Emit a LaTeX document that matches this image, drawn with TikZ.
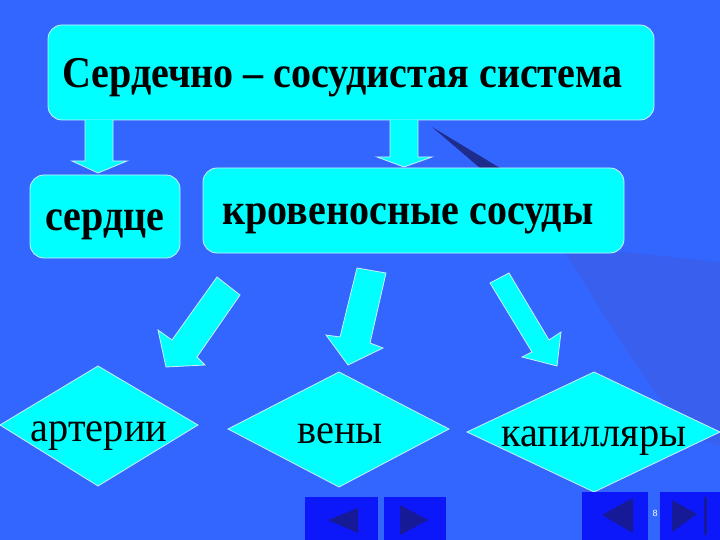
\documentclass[tikz,border=0pt]{standalone}
\usepackage{fontspec}
\setmainfont{Liberation Serif}
\newfontfamily\numfont{Liberation Sans}
\definecolor{bg}{RGB}{51,102,255}
\definecolor{shadecol}{RGB}{57,95,238}
\definecolor{darkstreak}{RGB}{30,45,140}
\definecolor{boxcyan}{RGB}{0,255,255}
\definecolor{btnblue}{RGB}{12,24,250}
\definecolor{btntri}{RGB}{22,26,150}
\newcommand{\bsq}[1]{\scalebox{0.91}[1]{#1}}
\newcommand{\rsq}[1]{\scalebox{0.96}[1]{#1}}
\begin{document}
\begin{tikzpicture}[x=1pt,y=-1pt,
  cbox/.style={fill=boxcyan,draw=white!80!cyan,line width=0.8pt,rounded corners=14pt},
  dia/.style={fill=boxcyan,draw=white!80!cyan,line width=0.8pt},
  barrow/.style={fill=boxcyan,draw=white!80!cyan,line width=0.8pt,line join=miter},
  btn/.style={fill=btnblue,draw=none},
  tri/.style={fill=btntri,draw=none},
  boldtxt/.style={font=\fontsize{44}{44}\selectfont\bfseries,text=black,inner sep=0pt},
  regtxt/.style={font=\fontsize{42}{42}\selectfont,text=black,inner sep=0pt}]
% background
\fill[bg] (0,0) rectangle (720,540);
\useasboundingbox (0,0) rectangle (720,540);
% shading
\fill[shadecol] (565,252) -- (623,252) -- (720,262) -- (720,445) -- (700,440)
  .. controls (660,410) and (620,340) .. (565,252) -- cycle;
\fill[darkstreak] (432,127) -- (500,168) -- (480,168) -- cycle;
% top box
\draw[cbox] (48,25) rectangle (654,120);
\node[boldtxt,anchor=base west] (title) at (62,88) {\bsq{Сердечно – сосудистая система}};
% down arrows
\draw[barrow] (85,120) -- (85,161) -- (72,161) -- (98,173) -- (127,161) -- (113,161) -- (113,120);
\draw[barrow] (390,120) -- (390,157) -- (377,157) -- (404,167) -- (432,157) -- (418,157) -- (418,120);
% second row boxes
\draw[cbox] (30,175) rectangle (180,258);
\node[boldtxt,anchor=base] (heart) at (105,230) {\bsq{сердце}};
\draw[cbox] (203,168) rectangle (624,253);
\node[boldtxt,anchor=base] (vessels) at (408,225) {\bsq{кровеносные сосуды}};
% diagonal arrows
\draw[barrow] (217,277) -- (240,295) -- (197,357) -- (205,365) -- (166,367) -- (158,330) -- (172,340) -- cycle;
\draw[barrow] (357,268) -- (386,273) -- (370,343) -- (383,348) -- (348,365) -- (326,335) -- (340,337) -- cycle;
\draw[barrow] (490,283) -- (509,273) -- (549,340) -- (561,332) -- (557,366) -- (522,357) -- (532,352) -- cycle;
% diamonds
\draw[dia] (0,425) -- (98,366) -- (198,425) -- (98,486) -- cycle;
\node[regtxt,anchor=base] (art) at (99,441) {\rsq{артерии}};
\draw[dia] (228,429) -- (339,372) -- (449,429) -- (339,487) -- cycle;
\node[regtxt,anchor=base] (ven) at (340,443) {\rsq{вены}};
\draw[dia] (467,432) -- (594,372) -- (720,432) -- (594,492) -- cycle;
\node[regtxt,anchor=base] (cap) at (594,446) {\rsq{капилляры}};
% navigation buttons
\fill[btn] (305,497) rectangle (378,540);
\fill[tri] (328,520) -- (358,508) -- (358,533) -- cycle;
\fill[btn] (384,497) rectangle (446,540);
\fill[tri] (400,505) -- (428,520) -- (400,535) -- cycle;
\fill[btn] (582,492) rectangle (648,540);
\fill[tri] (602,515) -- (633,498) -- (633,533) -- cycle;
\fill[btn] (660,492) rectangle (720,540);
\fill[tri] (672,500) -- (697,514) -- (672,532) -- cycle;
\fill[tri] (704,497) rectangle (707,535);
\node[font=\numfont\fontsize{9}{9}\selectfont,text=white,inner sep=0pt] (pg) at (655,513) {8};
\end{tikzpicture}
\end{document}
